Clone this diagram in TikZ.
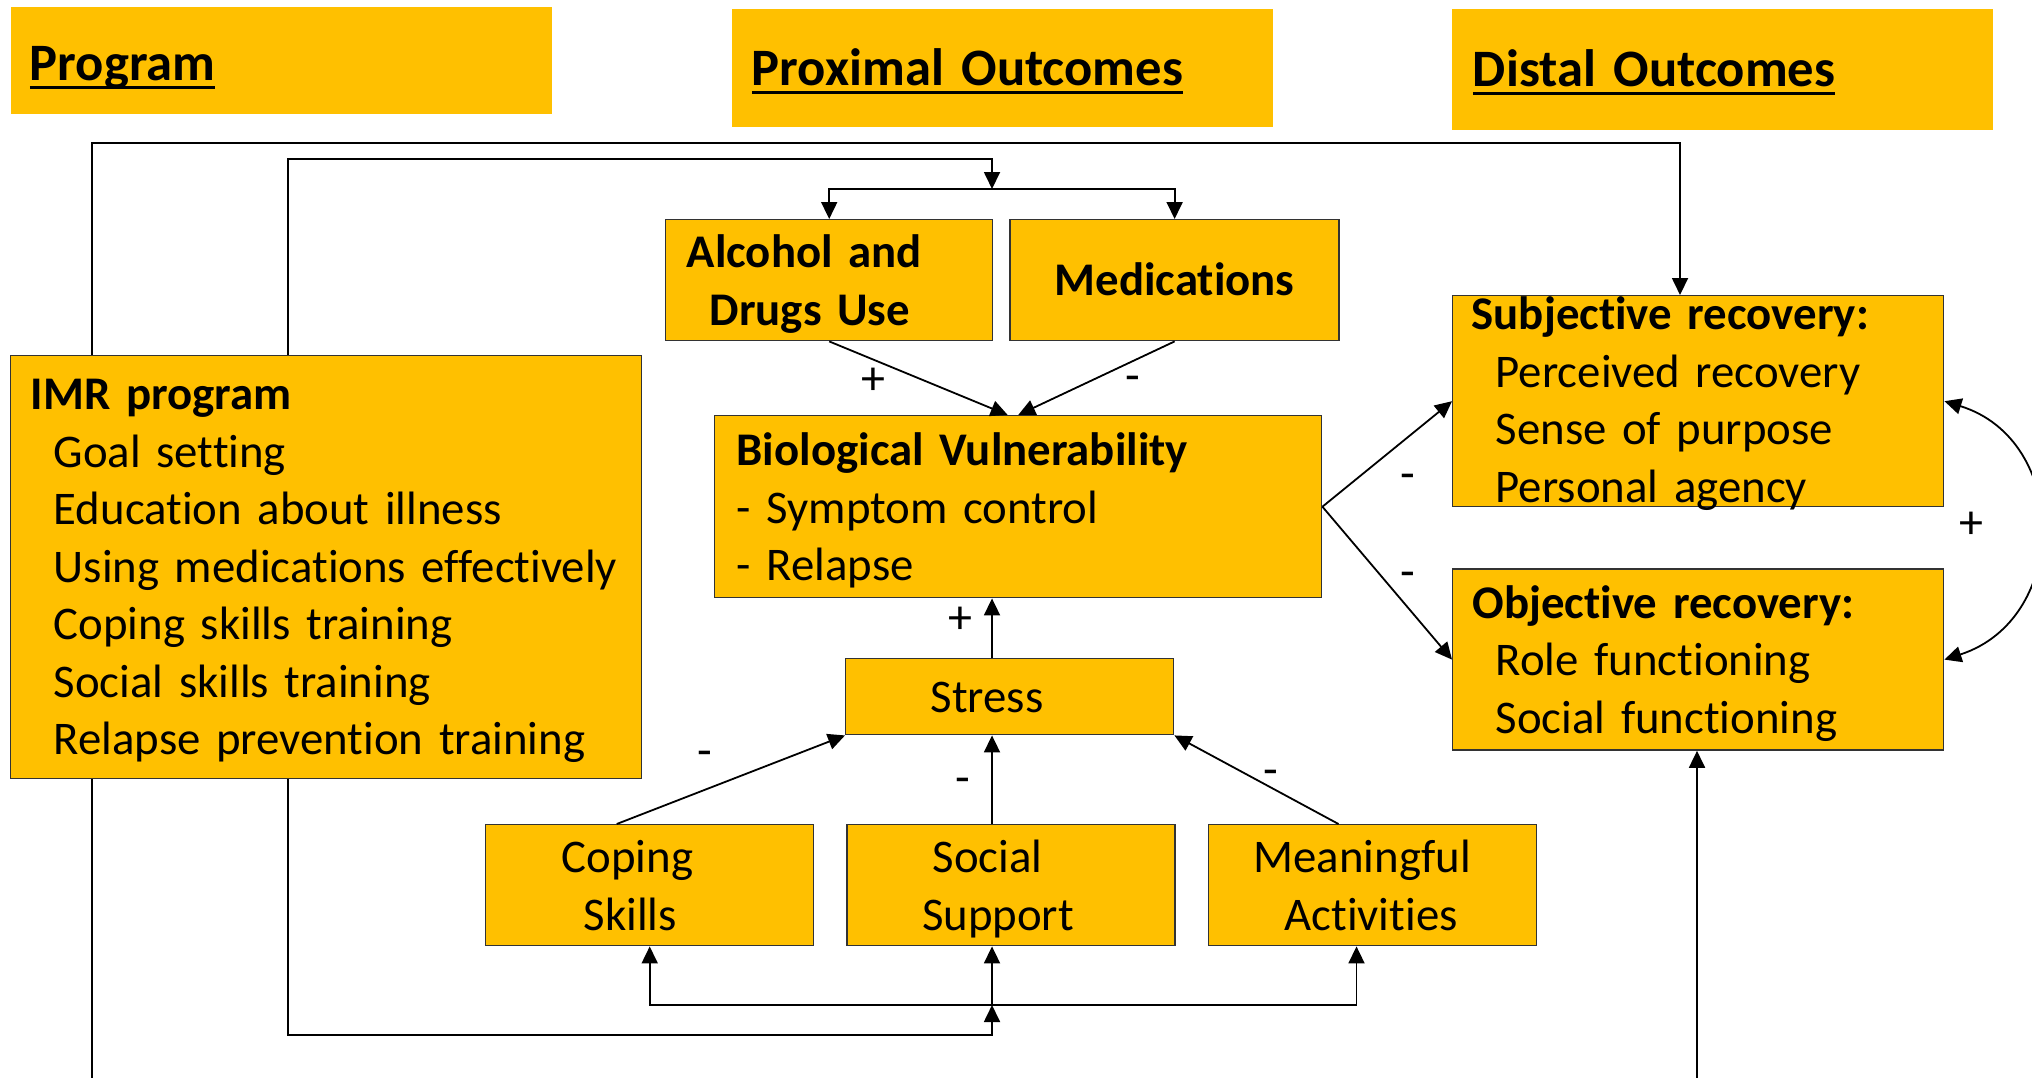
\documentclass[tikz,border=0pt]{standalone}
\usepackage{fontspec}
\setmainfont{Carlito}[Ligatures=NoCommon]
\usepackage{tikz}
\usetikzlibrary{positioning,arrows.meta}
\definecolor{gold}{HTML}{FFC000}
\newcommand{\bodyfont}{\fontsize{23.4}{28.75}\selectfont}
\newcommand{\titlefont}{\fontsize{26.3}{31}\selectfont\bfseries}
\newcommand{\signfont}{\fontsize{24}{28}\selectfont}
\newcommand{\ind}[1][11.5pt]{\hspace*{#1}}
\newcommand{\uline}[1]{\setbox0\hbox{#1}\rlap{\vrule height -2.5pt depth 3.85pt width \wd0}\box0}

\begin{document}
\begin{tikzpicture}[x=0.5pt,y=-0.5pt,line width=0.9pt,>={Triangle[length=8.5pt,width=8pt]},
    box/.style={draw=black!80,line width=0.7pt,fill=gold,anchor=north west,inner ysep=0pt,align=left,font=\bodyfont},
    head/.style={fill=gold,anchor=north west,inner ysep=0pt,align=left,font=\titlefont},
    sign/.style={font=\signfont,inner sep=0pt},
    minus/.style={sign,yshift=-4.5pt}]
  \useasboundingbox (0,0) rectangle (2032,1077);

  % column headings
  \node[head,text width=251.5pt,inner xsep=9.5pt,text height=37pt,text depth=16.5pt] (prog) at (10,6) {\uline{Program}};
  \node[head,text width=250.5pt,inner xsep=10pt,text height=38.5pt,text depth=20.5pt] (prox) at (731,8) {\uline{Proximal Outcomes}};
  \node[head,text width=249.5pt,inner xsep=10.5pt,text height=39pt,text depth=21.5pt] (dist) at (1451,8) {\uline{Distal Outcomes}};

  \node[box,text width=295.5pt,inner xsep=10pt,text height=27pt,text depth=184.5pt] (imr) at (10,355)
    {\textbf{IMR program}\\\ind Goal setting\\\ind Education about illness\\\ind\mbox{Using medications effectively}\\\ind Coping skills training\\\ind Social skills training\\\ind Relapse prevention training};

  \node[box,font=\bodyfont\bfseries,text width=142.5pt,inner xsep=10.5pt,text height=24pt,text depth=36.5pt] (alc) at (665,219) {Alcohol and\\\ind Drugs Use};
  \node[box,font=\bodyfont\bfseries,right=8pt of alc,align=center,text width=154.5pt,inner xsep=5pt,text height=38pt,text depth=22.5pt] (med) {Medications};
  \node[box,text width=281.5pt,inner xsep=11pt,text height=25pt,text depth=66pt] (bio) at (714,415)
    {\textbf{Biological Vulnerability}\\- Symptom control\\- Relapse};
  \node[box,text width=79pt,inner xsep=42.5pt,text height=27pt,text depth=11pt] (stress) at (845,658) {Stress};

  \node[box,text width=88pt,inner xsep=38pt,text height=24pt,text depth=36.5pt] (cope) at (485,824) {Coping\\\ind[11pt]Skills};
  \node[box,right=16pt of cope,text width=89pt,inner xsep=37.5pt,text height=24pt,text depth=36.5pt] (supp) {\ind[5.25pt]Social\\Support};
  \node[box,right=16pt of supp,text width=119pt,inner xsep=22.5pt,text height=24pt,text depth=36.5pt] (act) {Meaningful\\\ind[15.5pt]Activities};

  \node[box,text width=226.5pt,inner xsep=9.5pt,text height=17pt,text depth=88.5pt] (sub) at (1452,295)
    {\textbf{Subjective recovery:}\\\ind[12pt]Perceived recovery\\\ind[12pt]Sense of purpose\\\ind[12pt]Personal agency};
  \node[box,below=30.5pt of sub,text width=225.5pt,inner xsep=10pt,text height=24.5pt,text depth=66pt] (obj)
    {\textbf{Objective recovery:}\\\ind Role functioning\\\ind Social functioning};

  % bends of the feedback lines
  \coordinate (outer) at (92,143);
  \coordinate (inner) at (288,159);
  \coordinate (split) at (992,189);
  \coordinate (merge) at (992,1005);
  \coordinate (lower) at (288,1035);
  \coordinate (ground) at (92,1090);
  \coordinate (subin) at (1680,143);
  \coordinate (objin) at (1697,1090);

  \draw[->] (imr.north -| outer) -- (outer) -- (subin) -- (subin |- sub.north);
  \draw[->] (imr.north -| inner) -- (inner) -- (inner -| split) -- (split);
  \draw[->] (split) -| (alc.north);
  \draw[->] (split) -| (med.north);
  \draw (imr.south -| outer) -- (ground);
  \draw[->] (imr.south -| lower) -- (lower) -- (lower -| merge) -- (merge);
  \draw[->] (merge) -| (cope.south);
  \draw[->] (merge) -- (merge |- supp.south);
  \draw[->] (merge) -| ([xshift=-8pt]act.south);
  \draw[->] (objin) -- (objin |- obj.south);

  \draw[->] (alc.south) -- ([xshift=-5.25pt]bio.north);
  \draw[->] (med.south) -- (bio.north);
  \draw[->] (stress.north -| merge) -- (bio.south -| merge);
  \draw[->] ([xshift=-16.5pt]cope.north) -- (stress.south west);
  \draw[->] (supp.north -| merge) -- (stress.south -| merge);
  \draw[->] ([xshift=-17pt]act.north) -- (stress.south east);
  \draw[->] (bio.east) -- (sub.west);
  \draw[->] (bio.east) -- (obj.west);
  \draw[<->] (sub.east) .. controls (2070,440) and (2070,619) .. (obj.east);

  \node[sign] (sA) at (873,381) {+};
  \node[minus] (sM) at (1133,375) {-};
  \node[sign] (sS) at (960,620) {+};
  \node[minus] (sC) at (705,750) {-};
  \node[minus] (sP) at (963,777) {-};
  \node[minus] (sT) at (1271,769) {-};
  \node[minus] (sB) at (1408,473) {-};
  \node[minus] (sO) at (1408,571) {-};
  \node[sign] (sR) at (1971,525) {+};
\end{tikzpicture}
\end{document}
